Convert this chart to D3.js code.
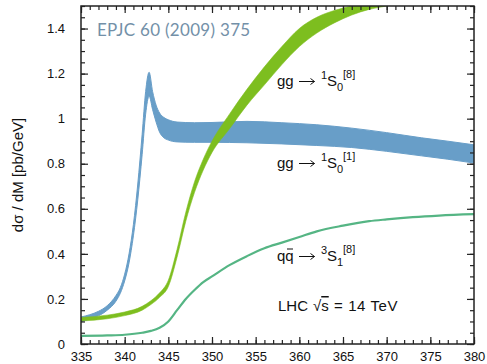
<!DOCTYPE html>
<html>
<head>
<meta charset="utf-8">
<script src="https://cdn.jsdelivr.net/npm/d3@7"></script>
<style>
  body { margin: 0; background: #fff; }
  svg text { fill: #111; }
</style>
</head>
<body>
<div id="chart"></div>
<script>
// gg -> 1S0[1] band (blue)
var blueM     = [335, 336, 337, 338, 339, 339.5, 340, 340.5, 341, 341.5, 342, 342.4, 342.8, 343.2, 343.6, 344, 344.5, 345, 346, 348, 350, 354, 358, 362, 366, 370, 374, 377, 380];
var blueHigh  = [0.12, 0.13, 0.145, 0.17, 0.215, 0.25, 0.31, 0.40, 0.53, 0.71, 0.93, 1.12, 1.206, 1.12, 1.06, 1.025, 1.005, 0.995, 0.985, 0.982, 0.983, 0.988, 0.982, 0.973, 0.958, 0.938, 0.915, 0.90, 0.884];
var blueLow   = [0.10, 0.11, 0.125, 0.15, 0.19, 0.225, 0.28, 0.36, 0.48, 0.64, 0.84, 1.02, 1.10, 1.04, 0.985, 0.94, 0.915, 0.905, 0.897, 0.895, 0.895, 0.893, 0.888, 0.881, 0.872, 0.855, 0.835, 0.82, 0.803];

// gg -> 1S0[8] band (green)
var greenM    = [335, 338, 340, 342, 343, 344, 345, 346, 347, 348, 349, 350, 352, 354, 356, 358, 360, 362, 364, 366, 368, 370, 372, 375];
var greenHigh = [0.118, 0.128, 0.142, 0.167, 0.192, 0.227, 0.283, 0.42, 0.585, 0.72, 0.82, 0.90, 1.02, 1.13, 1.23, 1.32, 1.40, 1.45, 1.48, 1.50, 1.52, 1.535, 1.545, 1.56];
var greenLow  = [0.102, 0.112, 0.126, 0.15, 0.175, 0.207, 0.255, 0.385, 0.545, 0.673, 0.772, 0.85, 0.955, 1.06, 1.15, 1.24, 1.32, 1.38, 1.425, 1.46, 1.485, 1.50, 1.515, 1.53];

// qqbar -> 3S1[8] line (teal)
var tealM     = [335, 338, 340, 342, 343, 344, 345, 346, 347, 348, 349, 350, 352, 354, 356, 358, 360, 362, 365, 368, 370, 373, 376, 380];
var tealVal   = [0.036, 0.038, 0.041, 0.05, 0.058, 0.072, 0.10, 0.15, 0.20, 0.24, 0.275, 0.30, 0.35, 0.39, 0.425, 0.45, 0.475, 0.50, 0.525, 0.545, 0.553, 0.563, 0.57, 0.576];

var xTicks = [335, 340, 345, 350, 355, 360, 365, 370, 375, 380];
var yTicks = [0, 0.2, 0.4, 0.6, 0.8, 1, 1.2, 1.4];

var sans = "'Liberation Sans', Arial, sans-serif";

function init() {
    var w = 487, h = 364;
    var left = 81, right = 474, top = 6, bottom = 344;

    var xScale = d3.scaleLinear().domain([335, 380]).range([left, right]);
    var yScale = d3.scaleLinear().domain([0, 1.5]).range([bottom, top]);

    var svg = d3.select("#chart").append("svg")
        .attr("width", w)
        .attr("height", h)
        .style("font-family", sans);

    svg.append("clipPath").attr("id", "plot")
        .append("rect")
        .attr("x", left).attr("y", top)
        .attr("width", right - left).attr("height", bottom - top);

    var band = d3.area()
        .curve(d3.curveMonotoneX)
        .x(function(d) { return xScale(d.m); })
        .y0(function(d) { return yScale(d.lo); })
        .y1(function(d) { return yScale(d.hi); });

    var blue = blueM.map(function(m, i) { return {m: m, lo: blueLow[i], hi: blueHigh[i]}; });
    var green = greenM.map(function(m, i) { return {m: m, lo: greenLow[i], hi: greenHigh[i]}; });
    var teal = tealM.map(function(m, i) { return {m: m, v: tealVal[i]}; });

    var g = svg.append("g").attr("clip-path", "url(#plot)");

    g.append("path").datum(teal)
        .attr("d", d3.line().curve(d3.curveMonotoneX)
            .x(function(d) { return xScale(d.m); })
            .y(function(d) { return yScale(d.v); }))
        .attr("fill", "none")
        .attr("stroke", "#55b584")
        .attr("stroke-width", 2.2);

    g.append("path").datum(blue)
        .attr("d", band)
        .attr("fill", "#689ec8")
        .attr("stroke", "#689ec8")
        .attr("stroke-width", 1);

    g.append("path").datum(green)
        .attr("d", band)
        .attr("fill", "#7dbe1f")
        .attr("stroke", "#7dbe1f")
        .attr("stroke-width", 0.6);

    // axes, ticks all pointing inwards
    var minorX = d3.range(335, 381, 1);
    var minorY = d3.range(0, 1.51, 0.05);

    function addAxis(axis, tr) {
        var a = svg.append("g").attr("transform", tr).call(axis);
        a.select(".domain").remove();
        a.selectAll("line").attr("stroke", "#222").attr("stroke-width", 1.2);
        return a;
    }

    addAxis(d3.axisBottom(xScale).tickValues(minorX).tickSize(-4).tickFormat(""), "translate(0," + bottom + ")");
    addAxis(d3.axisTop(xScale).tickValues(minorX).tickSize(-4).tickFormat(""), "translate(0," + top + ")");
    addAxis(d3.axisLeft(yScale).tickValues(minorY).tickSize(-4).tickFormat(""), "translate(" + left + ",0)");
    addAxis(d3.axisRight(yScale).tickValues(minorY).tickSize(-4).tickFormat(""), "translate(" + right + ",0)");

    var xAx = addAxis(d3.axisBottom(xScale).tickValues(xTicks).tickSize(-7).tickPadding(8), "translate(0," + bottom + ")");
    var yAx = addAxis(d3.axisLeft(yScale).tickValues(yTicks).tickSize(-7).tickPadding(16)
        .tickFormat(function(d) { return String(+d.toFixed(1)); }), "translate(" + left + ",0)");
    addAxis(d3.axisTop(xScale).tickValues(xTicks).tickSize(-7).tickFormat(""), "translate(0," + top + ")");
    addAxis(d3.axisRight(yScale).tickValues(yTicks).tickSize(-7).tickFormat(""), "translate(" + right + ",0)");

    xAx.selectAll("text").attr("font-size", 13).attr("font-family", sans).attr("fill", "#111");
    yAx.selectAll("text").attr("font-size", 13).attr("font-family", sans).attr("fill", "#111");

    svg.append("rect")
        .attr("x", left).attr("y", top)
        .attr("width", right - left).attr("height", bottom - top)
        .attr("fill", "none")
        .attr("stroke", "#222")
        .attr("stroke-width", 1.5);

    // y axis title
    svg.append("text")
        .attr("transform", "translate(23," + ((113 + 237) / 2) + ") rotate(-90)")
        .attr("text-anchor", "middle")
        .attr("font-size", 15)
        .text("dσ / dM [pb/GeV]");

    // reference tag
    svg.append("text")
        .attr("x", 97).attr("y", 36)
        .style("font-family", "Lato, 'Open Sans', sans-serif")
        .attr("font-size", 17)
        .attr("letter-spacing", 0.3)
        .style("fill", "#7390a8")
        .text("EPJC 60 (2009) 375");

    // process labels: state notation with stacked sub/superscripts
    function stateLabel(x, y, pre, spin, sub, col) {
        var t = svg.append("g").attr("transform", "translate(" + x + "," + y + ")");
        t.append("text").attr("font-size", 15).text(pre);
        // reaction arrow
        t.append("path")
            .attr("d", "M22,-4.5H37.5M33.5,-7.5L37.5,-4.5L33.5,-1.5")
            .attr("fill", "none")
            .attr("stroke", "#111")
            .attr("stroke-width", 1);
        t.append("text").attr("x", 44).attr("y", -7).attr("font-size", 11).text(spin);
        t.append("text").attr("x", 50).attr("font-size", 15).text("S");
        t.append("text").attr("x", 60).attr("y", 5).attr("font-size", 11).text(sub);
        t.append("text").attr("x", 66).attr("y", -8).attr("font-size", 11).text(col);
        return t;
    }

    stateLabel(277, 86, "gg", "1", "0", "[8]");
    stateLabel(277, 168, "gg", "1", "0", "[1]");
    var q = stateLabel(277, 261, "qq", "3", "1", "[8]");
    q.append("line").attr("x1", 10).attr("x2", 16).attr("y1", -12).attr("y2", -12)
        .attr("stroke", "#111").attr("stroke-width", 1);

    var lhc = svg.append("text")
        .attr("y", 311)
        .attr("font-size", 15);
    lhc.append("tspan").attr("x", 278).text("LHC");
    lhc.append("tspan").attr("x", 313).text("\u221A");
    lhc.append("tspan").style("text-decoration", "overline").text("s");
    lhc.append("tspan").attr("x", 334).attr("letter-spacing", 0.6).text("= 14 TeV");
}

window.onload = init;
</script>
</body>
</html>
